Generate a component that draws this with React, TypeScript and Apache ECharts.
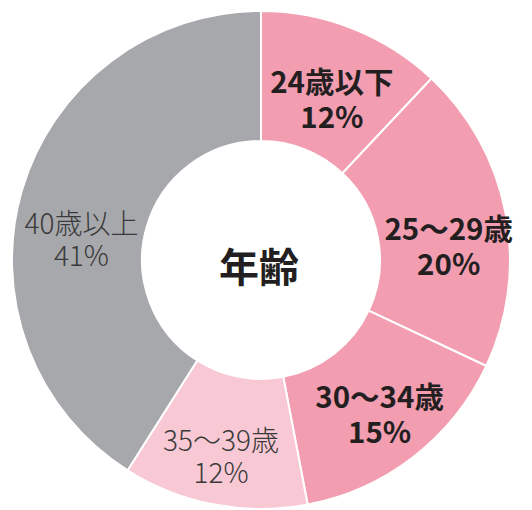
import React, { useEffect, useRef } from "react";
import * as echarts from "echarts";

const categories = ["24歳以下", "25～29歳", "30～34歳", "35～39歳", "40歳以上"];
const values = [12, 20, 15, 12, 41];
const centerTitle = "年齢";

const colors = ["#f39db1", "#f39db1", "#f39db1", "#f8c9d4", "#a7a8ac"];
const boldFlags = [true, true, true, false, false];
const labelShift: [number, number][] = [
  [2, 11],
  [4, 20],
  [4, 5],
  [-5, 11],
  [0, 30],
];

export default function App() {
  const ref = useRef<HTMLDivElement>(null);
  useEffect(() => {
    if (!ref.current) return;
    const chart = echarts.init(ref.current, undefined, { renderer: "svg" });
    const cx = 261;
    const cy = 260;
    chart.setOption({
      animation: false,
      backgroundColor: "#ffffff",
      graphic: [
        {
          type: "text",
          x: cx - 2,
          y: cy + 5,
          style: {
            text: centerTitle,
            fontSize: 40,
            fontWeight: "bold",
            fontFamily: "Noto Sans CJK JP",
            fill: "#231f20",
            textAlign: "center",
            textVerticalAlign: "middle",
          },
        },
      ],
      series: [
        {
          type: "pie",
          center: [cx, cy],
          radius: [119, 249],
          startAngle: 90,
          clockwise: true,
          avoidLabelOverlap: false,
          itemStyle: { borderColor: "#ffffff", borderWidth: 2 },
          emphasis: { disabled: true },
          labelLine: { show: false },
          labelLayout: (p: any) => ({
            dx: labelShift[p.dataIndex][0],
            dy: labelShift[p.dataIndex][1],
          }),
          data: categories.map((name, i) => ({
            name,
            value: values[i],
            itemStyle: { color: colors[i] },
            label: {
              show: true,
              position: "inside",
              formatter: "{b}\n{c}%",
              fontSize: boldFlags[i] ? 29.5 : 28,
              lineHeight: boldFlags[i] ? 35 : 32,
              fontFamily: "Noto Sans CJK JP",
              fontWeight: boldFlags[i] ? "bold" : 300,
              color: boldFlags[i] ? "#231f20" : "#3a3a3a",
              align: "center",
            },
          })),
        },
      ],
    });
    return () => chart.dispose();
  }, []);
  return (
    <div
      ref={ref}
      style={{ position: "fixed", left: 0, top: 0, width: 532, height: 510 }}
    />
  );
}
